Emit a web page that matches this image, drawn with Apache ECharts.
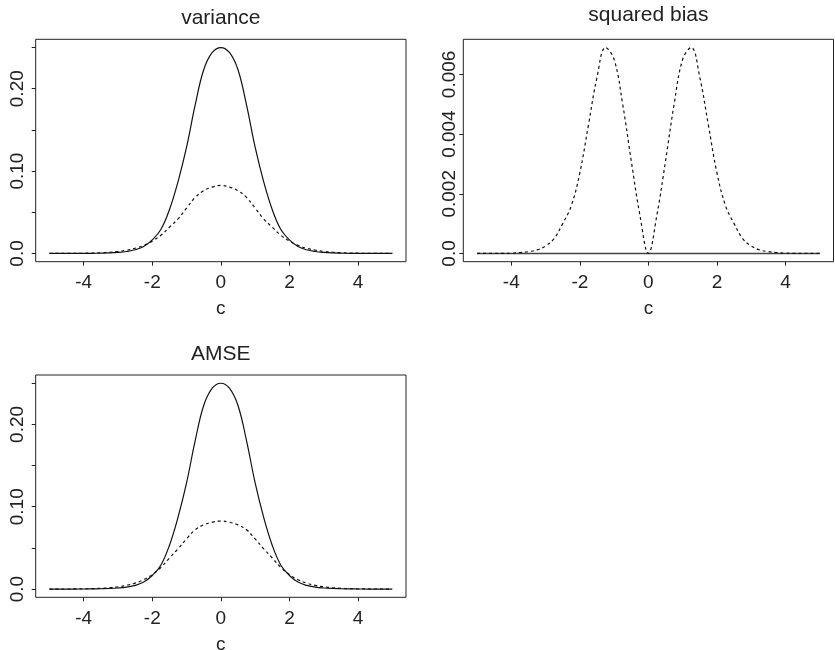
<!DOCTYPE html>
<html><head><meta charset="utf-8">
<script src="https://cdn.jsdelivr.net/npm/echarts@6/dist/echarts.min.js"></script>
<style>html,body{margin:0;padding:0;background:#fff}#c{width:835px;height:650px}</style>
</head><body><div id="c"></div>
<script>
// ---- data ----
const cVals = [-5,-4.75,-4.5,-4.25,-4,-3.75,-3.5,-3.25,-3,-2.75,-2.5,-2.25,-2,-1.75,-1.5,-1.25,-1,-0.75,-0.5,-0.25,0,0.25,0.5,0.75,1,1.25,1.5,1.75,2,2.25,2.5,2.75,3,3.25,3.5,3.75,4,4.25,4.5,4.75,5];
const varSolid = [0.0,0.00001,0.00002,0.00005,0.0001,0.0002,0.0004,0.0007,0.0013,0.0024,0.0045,0.0085,0.0165,0.029,0.053,0.087,0.129,0.180,0.223,0.244,0.250,0.244,0.223,0.180,0.129,0.087,0.053,0.029,0.0165,0.0085,0.0045,0.0024,0.0013,0.0007,0.0004,0.0002,0.0001,0.00005,0.00002,0.00001,0.0];
const varDashed = [0.00002,0.00004,0.00008,0.00015,0.0003,0.0005,0.0009,0.0015,0.0025,0.0040,0.0063,0.0098,0.0150,0.0220,0.0318,0.0420,0.0550,0.0680,0.0762,0.0806,0.0826,0.0806,0.0762,0.0680,0.0550,0.0420,0.0318,0.0220,0.0150,0.0098,0.0063,0.0040,0.0025,0.0015,0.0009,0.0005,0.0003,0.00015,0.00008,0.00004,0.00002];
const biasSolid = [0,0,0,0,0,0,0,0,0,0,0,0,0,0,0,0,0,0,0,0,0,0,0,0,0,0,0,0,0,0,0,0,0,0,0,0,0,0,0,0,0];
const biasDashed = [0,0,0,0,0.00001,0.00003,0.00006,0.00012,0.00025,0.0005,0.0010,0.0016,0.0027,0.0043,0.0059,0.0069,0.0065,0.0050,0.0031,0.0013,0,0.0013,0.0031,0.0050,0.0065,0.0069,0.0059,0.0043,0.0027,0.0016,0.0010,0.0005,0.00025,0.00012,0.00006,0.00003,0.00001,0,0,0,0];
const amseSolid = [0.0,0.00001,0.00002,0.00005,0.0001,0.0002,0.0004,0.0007,0.0013,0.0024,0.0045,0.0085,0.0165,0.029,0.053,0.087,0.129,0.180,0.223,0.244,0.250,0.244,0.223,0.180,0.129,0.087,0.053,0.029,0.0165,0.0085,0.0045,0.0024,0.0013,0.0007,0.0004,0.0002,0.0001,0.00005,0.00002,0.00001,0.0];
const amseDashed = [0.00002,0.00004,0.00008,0.00015,0.00031,0.00053,0.00096,0.0016,0.00275,0.0045,0.0073,0.0114,0.0176,0.0262,0.0377,0.0489,0.0610,0.0720,0.0780,0.0812,0.0826,0.0812,0.0780,0.0720,0.0610,0.0489,0.0377,0.0262,0.0176,0.0114,0.0073,0.0045,0.00275,0.0016,0.00096,0.00053,0.00031,0.00015,0.00008,0.00004,0.00002];

const titles = ['variance', 'squared bias', 'AMSE'];
const xName = 'c';
const xTicks = [-4, -2, 0, 2, 4];
const yTicksVar = [0, 0.05, 0.10, 0.15, 0.20, 0.25];
const yLabelValsVar = [0, 0.10, 0.20];
const yLabelTextVar = ['0.0', '0.10', '0.20'];
const yTicksBias = [0, 0.002, 0.004, 0.006];
const yLabelTextBias = ['0.0', '0.002', '0.004', '0.006'];

// ---- chart ----
const FONT = '"Liberation Sans", Arial, Helvetica, sans-serif';
const INK = '#222';
const grids = [
  {left: 35.7, top: 39.3, width: 370.3, height: 222.4},
  {left: 463.3, top: 39.3, width: 370.2, height: 222.4},
  {left: 35.7, top: 375, width: 370.3, height: 222.3}
];
function pairs(ys) { return cVals.map((c, i) => [c, ys[i]]); }
function labelFrom(vals, texts) {
  return function (v) {
    for (let i = 0; i < vals.length; i++) if (Math.abs(v - vals[i]) < 1e-9) return texts[i];
    return '';
  };
}
function xAxis(i) {
  return {
    type: 'value', gridIndex: i, min: -5.4, max: 5.4, position: 'bottom',
    axisLine: {show: false, onZero: false},
    axisTick: {show: true, length: 4, customValues: xTicks, lineStyle: {color: INK, width: 1}},
    axisLabel: {customValues: xTicks, fontSize: 19, color: INK, margin: 12, fontFamily: FONT},
    splitLine: {show: false},
    name: xName, nameLocation: 'middle', nameGap: 38,
    nameTextStyle: {fontSize: 19, color: INK, fontFamily: FONT}
  };
}
function yAxis(i, min, max, ticks, labVals, labTexts, margin) {
  return {
    type: 'value', gridIndex: i, min: min, max: max, position: 'left',
    axisLine: {show: false, onZero: false},
    axisTick: {show: true, length: 4, customValues: ticks, lineStyle: {color: INK, width: 1}},
    axisLabel: {customValues: labVals, formatter: labelFrom(labVals, labTexts), rotate: 90,
      fontSize: 19, color: INK, margin: margin, fontFamily: FONT},
    splitLine: {show: false}
  };
}
function line(i, ys, dashed, color, width) {
  return {
    type: 'line', xAxisIndex: i, yAxisIndex: i, data: pairs(ys),
    showSymbol: false, symbol: 'none', smooth: 0.4, silent: true,
    lineStyle: {color: color || '#111', width: width || 1.2, type: dashed ? [3, 3] : 'solid'}
  };
}
const titleY = [18.5, 15, 354.5];
const option = {
  animation: false,
  backgroundColor: '#fff',
  grid: grids.map(g => Object.assign({show: true, borderColor: INK, borderWidth: 1,
    backgroundColor: 'transparent', containLabel: false, outerBoundsMode: 'none'}, g)),
  xAxis: [xAxis(0), xAxis(1), xAxis(2)],
  yAxis: [
    yAxis(0, -0.01, 0.26, yTicksVar, yLabelValsVar, yLabelTextVar, 8),
    yAxis(1, -0.000276, 0.007176, yTicksBias, yTicksBias, yLabelTextBias, 4),
    yAxis(2, -0.01, 0.26, yTicksVar, yLabelValsVar, yLabelTextVar, 8)
  ],
  graphic: titles.map((t, i) => ({
    type: 'text', x: grids[i].left + grids[i].width / 2, y: titleY[i],
    style: {text: t, fontSize: 21, fontFamily: FONT, fill: INK, align: 'center', verticalAlign: 'middle'}
  })),
  series: [
    line(0, varSolid, false),
    line(0, varDashed, true),
    line(1, biasSolid, false, '#444', 1.6),
    line(1, biasDashed, true),
    line(2, amseSolid, false),
    line(2, amseDashed, true)
  ]
};
const chart = echarts.init(document.getElementById('c'));
chart.setOption(option);
</script></body></html>
